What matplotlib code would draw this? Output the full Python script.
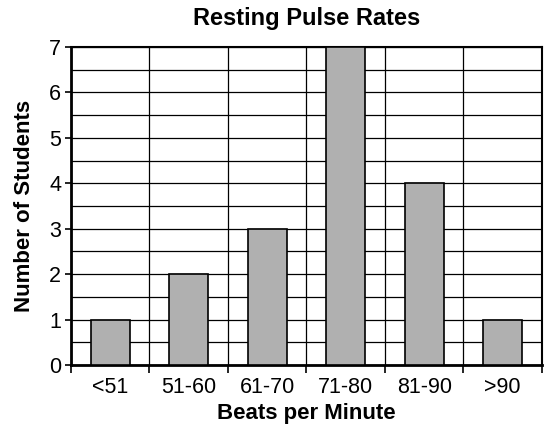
import numpy as np
import matplotlib.pyplot as plt
from matplotlib.ticker import MultipleLocator, FixedLocator

# pulse rate bins and counts
categories = ['<51', '51-60', '61-70', '71-80', '81-90', '>90']
students = [1, 2, 3, 7, 4, 1]

plt.rcParams['font.family'] = ['Liberation Sans', 'DejaVu Sans']

fig = plt.figure(figsize=(5.56, 4.29), dpi=100)
ax = fig.add_axes([0.1277, 0.1492, 0.8471, 0.7412])

x = np.arange(len(categories))
ax.bar(x, students, width=0.5, color='#b0b0b0', edgecolor='black',
       linewidth=1.2, zorder=3)

ax.set_xlim(-0.5, len(categories) - 0.5)
ax.set_ylim(0, 7)

ax.set_xticks(x)
ax.set_xticklabels(categories, fontsize=15.5)
ax.xaxis.set_minor_locator(FixedLocator(np.arange(-0.5, len(categories), 1.0)))
ax.tick_params(axis='x', which='major', length=0, pad=9)
ax.tick_params(axis='x', which='minor', length=6, width=1.2, direction='out')

ax.yaxis.set_major_locator(MultipleLocator(1))
ax.yaxis.set_minor_locator(MultipleLocator(0.5))
ax.tick_params(axis='y', which='major', length=4, width=1.2, labelsize=15.5, pad=3)
ax.tick_params(axis='y', which='minor', length=0)

ax.grid(True, which='minor', axis='x', color='black', linewidth=0.9, zorder=0)
ax.grid(True, which='both', axis='y', color='black', linewidth=0.9, zorder=0)

for side in ['left', 'bottom']:
    ax.spines[side].set_linewidth(2)
for side in ['top', 'right']:
    ax.spines[side].set_linewidth(1.5)

ax.set_title('Resting Pulse Rates', fontsize=17, fontweight='bold', pad=16)
ax.set_xlabel('Beats per Minute', fontsize=16, fontweight='bold', labelpad=3)
ax.set_ylabel('Number of Students', fontsize=16, fontweight='bold', labelpad=10)

fig.savefig('out.png', dpi=100)
